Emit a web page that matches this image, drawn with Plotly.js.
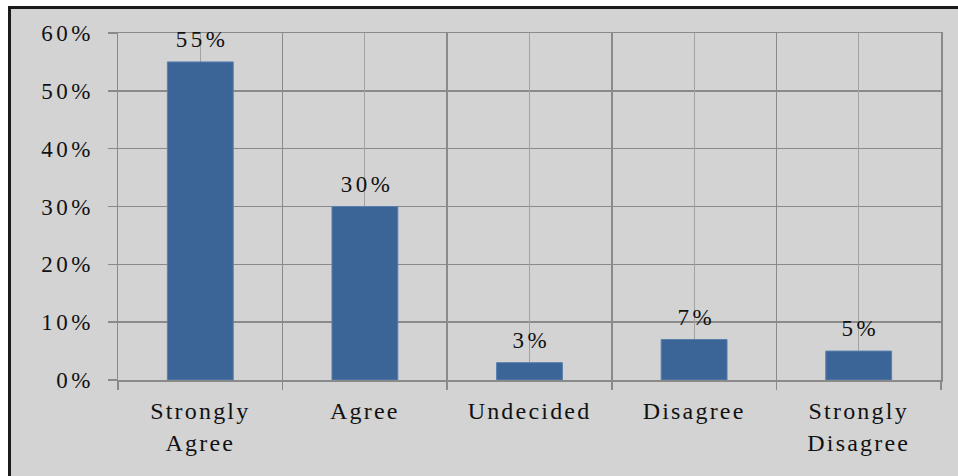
<!DOCTYPE html>
<html><head><meta charset="utf-8">
<script src="https://cdn.plot.ly/plotly-3.0.1.min.js"></script>
<style>
html,body{margin:0;padding:0;background:#fff;width:958px;height:476px;overflow:hidden;}
#frame{position:absolute;left:8px;top:6px;width:950px;height:470px;border-left:3px solid #1a1a1a;border-top:3px solid #1a1a1a;box-sizing:border-box;background:#d3d3d3;}
#chart{width:947px;height:467px;}
#chart .xtick text {letter-spacing:2.2px;}
#chart .ytick text, #chart .annotation text {letter-spacing:3.5px;}
</style></head>
<body>
<div id="frame"><div id="chart"></div></div>
<script>
const categories = ["Strongly<br>Agree", "Agree", "Undecided", "Disagree", "Strongly<br>Disagree"];
const values = [55, 30, 3, 7, 5];
const labels = ["55%", "30%", "3%", "7%", "5%"];
const yTicks = [0, 10, 20, 30, 40, 50, 60];
const yTickText = ["0%", "10%", "20%", "30%", "40%", "50%", "60%"];

const xFont = {family: "Liberation Serif, Times New Roman, serif", size: 24, color: "#111"};
const yFont = {family: "Liberation Serif, Times New Roman, serif", size: 23, color: "#111"};
const grid = "#8a8a8a";

const data = [{
  type: "bar",
  x: categories,
  y: values,
  marker: {color: "#3b6497", line: {color: "#5a7fae", width: 1}},
  width: 0.4,
  hoverinfo: "none"
}, {
  type: "scatter", x: [0], y: [0], xaxis: "x2", mode: "none", showlegend: false, hoverinfo: "skip"
}];

const annotations = categories.map((c, i) => ({
  x: c, y: values[i], xref: "x", yref: "y",
  text: labels[i], showarrow: false, yanchor: "bottom", yshift: 8, xshift: 2,
  font: yFont
}));

const layout = {
  width: 947, height: 467,
  margin: {l: 107, r: 17, t: 24, b: 96},
  paper_bgcolor: "#d3d3d3",
  plot_bgcolor: "#d3d3d3",
  showlegend: false,
  font: yFont,
  annotations: annotations,
  xaxis: {
    type: "category",
    tickson: "boundaries",
    showgrid: true, gridcolor: grid, gridwidth: 1.5,
    ticks: "outside", ticklen: 8, tickcolor: grid, tickwidth: 1.5,
    showline: true, linecolor: grid, linewidth: 1.5, mirror: true,
    tickfont: xFont, automargin: false, ticklabelstandoff: 9,
    range: [-0.5, 4.5]
  },
  xaxis2: {
    overlaying: "x", side: "bottom", range: [-0.5, 4.5],
    tickvals: [0, 1, 2, 3, 4], showticklabels: false, ticks: "",
    showgrid: true, gridcolor: "#a2a2a2", gridwidth: 1, zeroline: false, showline: false
  },
  yaxis: {
    range: [0, 60], tickvals: yTicks, ticktext: yTickText,
    showgrid: true, gridcolor: grid, gridwidth: 1.5,
    ticks: "outside", ticklen: 9, tickcolor: grid, tickwidth: 1.5,
    showline: true, linecolor: grid, linewidth: 1.5, mirror: true,
    zeroline: false, tickfont: yFont, automargin: false, ticklabelstandoff: 9
  }
};

Plotly.newPlot("chart", data, layout, {displayModeBar: false, staticPlot: true});
</script>
</body></html>
